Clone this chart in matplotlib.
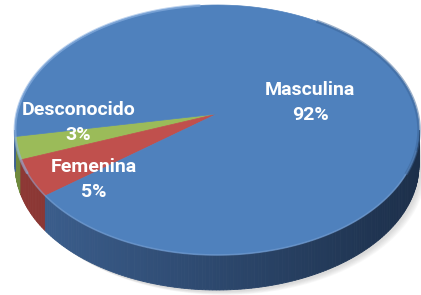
import numpy as np
import matplotlib.pyplot as plt
from matplotlib.patches import Polygon
import matplotlib.colors as mcolors

labels = ['Desconocido', 'Femenina', 'Masculina']
values = [3, 5, 92]
top_colors = ['#9bbb59', '#c0504d', '#4f81bd']
side_left = ['#6f8a3e', '#8e3835', '#3d6191']
side_right = ['#4a5e28', '#5e2422', '#1c2f4a']

# geometry in pixel units (y up)
W, H = 421, 295
cx, cy = 217, H - 130
ax_, by_ = 202, 125
apex = (217, H - 114)
depth = 35
start = 183.0

fig = plt.figure(figsize=(W / 100, H / 100), dpi=100)
ax = fig.add_axes([0, 0, 1, 1])
ax.set_xlim(0, W)
ax.set_ylim(0, H)
ax.axis('off')


def ell(t):
    t = np.radians(t)
    return cx + ax_ * np.cos(t), cy + by_ * np.sin(t)


# soft shadow
for k in range(6):
    tt = np.linspace(0, 360, 200)
    ex, ey = ell(tt)
    ax.fill(ex + 2 + k, ey - depth - 2 - k * 0.6, color='grey', alpha=0.05, lw=0, zorder=0)

angles = start + np.cumsum([0] + values) / sum(values) * 360

# side walls (front half, 180..360)
for i in range(len(values)):
    t1, t2 = angles[i], angles[i + 1]
    for lo, hi in [(t1, t2), (t1 - 360, t2 - 360)]:
        a = max(lo, 180)
        b = min(hi, 360)
        if b <= a:
            continue
        steps = np.arange(a, b, 1.0)
        steps = np.append(steps, b)
        for s0, s1 in zip(steps[:-1], steps[1:]):
            xs, ys = ell(np.array([s0, s1]))
            f = (xs.mean() - (cx - ax_)) / (2 * ax_)
            c0 = np.array(mcolors.to_rgb(side_left[i]))
            c1 = np.array(mcolors.to_rgb(side_right[i]))
            col = c0 + (c1 - c0) * f
            poly = [(xs[0], ys[0]), (xs[1], ys[1]), (xs[1], ys[1] - depth), (xs[0], ys[0] - depth)]
            ax.add_patch(Polygon(poly, closed=True, fc=col, ec=col, lw=0.6, zorder=1))

# top faces
for i in range(len(values)):
    tt = np.linspace(angles[i], angles[i + 1], 200)
    ex, ey = ell(tt)
    pts = np.column_stack([np.r_[apex[0], ex], np.r_[apex[1], ey]])
    ax.add_patch(Polygon(pts, closed=True, fc=top_colors[i], ec=top_colors[i], lw=0.5, zorder=2))

# rim highlights
tt = np.linspace(95, 200, 100)
ex, ey = ell(tt)
ax.plot(ex, ey, color='#8fb4e3', lw=2, alpha=0.6, zorder=3, solid_capstyle='round')
tt = np.linspace(200, 350, 100)
ex, ey = ell(tt)
ax.plot(ex, ey, color='#7fa6d8', lw=1.2, alpha=0.5, zorder=3)
tt = np.linspace(-20, 60, 100)
ex, ey = ell(tt)
ax.plot(ex, ey, color='#3a6396', lw=2.5, alpha=0.5, zorder=3)

# labels: (angle nudge from slice middle, radius fraction)
nudges = {'Desconocido': (-14.4, 0.69), 'Femenina': (9.2, 0.72), 'Masculina': (10, 0.52)}
for i, lab in enumerate(labels):
    mid = (angles[i] + angles[i + 1]) / 2
    dang, r = nudges[lab]
    t = np.radians(mid + dang)
    x = cx + r * ax_ * np.cos(t)
    y = cy + r * by_ * np.sin(t) - 2
    pct = round(values[i] / sum(values) * 100)
    ax.text(x, y, f'{lab}\n{pct}%', ha='center', va='center', color='white',
            fontsize=14, fontweight='bold', family='Roboto', linespacing=1.5, zorder=5)

fig.savefig('out.png', dpi=100)
